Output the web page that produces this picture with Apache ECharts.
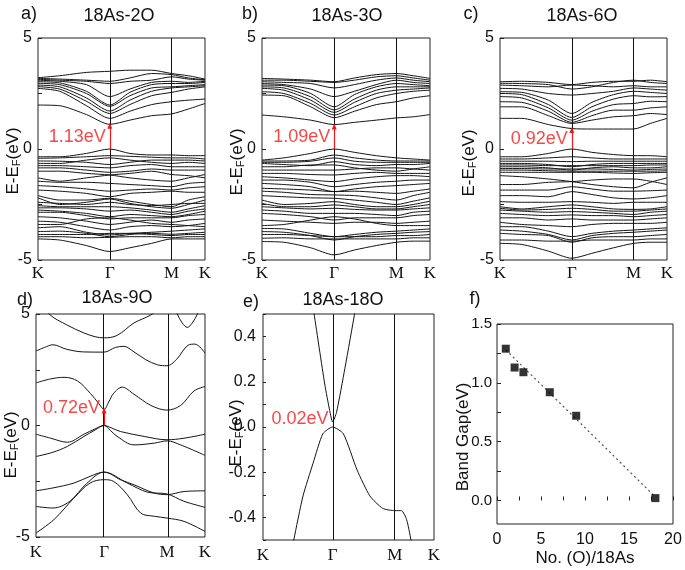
<!DOCTYPE html>
<html><head><meta charset="utf-8">
<script src="https://cdn.jsdelivr.net/npm/echarts@6/dist/echarts.min.js"></script>
<style>html,body{margin:0;padding:0;background:#fff}#c{width:685px;height:570px}</style>
</head><body><div id="c"></div>
<script>
// ---------- k-path ----------
const kLabels = ['K', 'Γ', 'M', 'K'];
const kTicksABC = [0, 0.43, 0.80, 1];
const kTicksD = [0, 0.403, 0.775, 1];
const kTicksE = [0, 0.407, 0.771, 1];
const kABC = [0, 0.13, 0.29, 0.43, 0.55, 0.68, 0.80, 0.90, 1.0];

// ---------- panel a: 18As-2O (energies at kABC) ----------
const bandsA = [
  [1.98, 1.95, 1.55, 1.11, 1.3, 1.5, 1.58, 1.8, 2.05],
  [2.73, 2.6, 1.95, 1.38, 1.7, 2.0, 2.13, 2.2, 2.25],
  [2.81, 2.7, 2.15, 1.6, 2.0, 2.4, 2.55, 2.7, 2.8],
  [2.88, 2.8, 2.3, 1.71, 2.2, 2.6, 2.75, 2.8, 2.85],
  [2.96, 2.9, 2.5, 1.92, 2.4, 2.75, 2.8, 2.85, 2.9],
  [3.03, 2.98, 2.6, 1.98, 2.55, 2.9, 2.95, 2.95, 3.0],
  [3.1, 3.05, 2.9, 2.36, 2.7, 3.0, 3.05, 3.0, 3.05],
  [3.14, 3.1, 3.05, 2.95, 3.05, 3.1, 3.25, 3.15, 3.1],
  [3.21, 3.3, 3.45, 3.5, 3.55, 3.55, 3.4, 3.3, 3.15],
  [3.18, 3.15, 3.1, 3.05, 3.2, 3.4, 3.35, 3.2, 3.12],
  [-0.35, -0.35, -0.2, 0, -0.2, -0.27, -0.27, -0.3, -0.3],
  [-0.42, -0.4, -0.35, -0.3, -0.33, -0.37, -0.4, -0.4, -0.45],
  [-0.54, -0.55, -0.6, -0.7, -0.6, -0.5, -0.5, -0.5, -0.54],
  [-0.65, -0.65, -0.5, -0.4, -0.5, -0.6, -0.65, -0.6, -0.65],
  [-0.75, -0.75, -0.8, -0.85, -0.75, -0.7, -0.8, -0.8, -0.8],
  [-0.85, -0.85, -0.95, -1.05, -1.0, -0.9, -0.95, -0.95, -0.95],
  [-1.0, -1.0, -1.1, -1.17, -1.3, -1.4, -1.45, -1.3, -1.15],
  [-1.3, -1.45, -1.3, -1.17, -1.1, -1.0, -1.15, -1.2, -1.3],
  [-1.45, -1.5, -1.5, -1.55, -1.6, -1.65, -1.7, -1.55, -1.5],
  [-1.65, -1.7, -1.8, -1.9, -1.85, -1.8, -1.85, -1.75, -1.7],
  [-1.85, -1.9, -2.0, -2.15, -2.0, -1.95, -1.9, -1.95, -1.95],
  [-2.1, -2.3, -2.3, -2.22, -2.35, -2.5, -2.6, -2.3, -2.15],
  [-2.2, -2.5, -2.4, -2.25, -2.45, -2.6, -2.67, -2.5, -2.3],
  [-2.4, -2.45, -2.5, -2.4, -2.5, -2.55, -2.5, -2.45, -2.45],
  [-2.55, -2.6, -2.6, -2.6, -2.65, -2.75, -2.85, -2.7, -2.55],
  [-2.65, -2.65, -2.7, -2.8, -2.75, -2.85, -2.95, -2.8, -2.7],
  [-2.75, -2.8, -2.9, -3.05, -2.95, -3.0, -3.05, -2.95, -2.8],
  [-2.85, -2.85, -3.0, -3.15, -3.1, -3.1, -3.1, -3.0, -2.95],
  [-3.05, -3.1, -3.25, -3.4, -3.3, -3.2, -3.3, -3.2, -3.15],
  [-3.25, -3.3, -3.5, -3.65, -3.5, -3.45, -3.5, -3.45, -3.35],
  [-3.4, -3.4, -3.15, -3.1, -3.2, -3.35, -3.4, -3.45, -3.5],
  [-3.55, -3.5, -3.75, -3.87, -3.8, -3.75, -3.7, -3.65, -3.6],
  [-3.72, -3.7, -3.8, -3.95, -3.85, -3.8, -3.84, -3.8, -3.75],
  [-3.85, -3.85, -3.85, -3.8, -3.8, -3.85, -3.9, -3.85, -3.85],
  [-3.95, -3.95, -4.0, -3.98, -3.95, -3.95, -4.0, -3.95, -3.95],
  [-4.05, -4.1, -4.35, -4.62, -4.45, -4.25, -4.05, -4.05, -4.05]
];

// ---------- panel b: 18As-3O ----------
const bandsB = [
  [1.53, 1.45, 1.3, 1.1, 1.2, 1.3, 1.4, 1.45, 1.55],
  [2.43, 2.4, 1.9, 1.41, 1.7, 2.0, 2.13, 2.3, 2.4],
  [2.58, 2.5, 2.05, 1.53, 1.9, 2.3, 2.5, 2.6, 2.65],
  [2.73, 2.65, 2.2, 1.65, 2.1, 2.5, 2.65, 2.7, 2.75],
  [2.8, 2.75, 2.35, 1.76, 2.25, 2.65, 2.8, 2.8, 2.8],
  [2.88, 2.85, 2.5, 1.9, 2.45, 2.8, 2.95, 2.9, 2.85],
  [2.95, 2.9, 2.7, 2.36, 2.6, 2.9, 3.1, 3.0, 2.95],
  [3.03, 3.0, 2.95, 2.75, 2.9, 3.1, 3.2, 3.1, 3.03],
  [3.1, 3.1, 3.05, 3.0, 3.1, 3.25, 3.3, 3.2, 3.1],
  [3.18, 3.15, 3.1, 3.03, 3.2, 3.35, 3.4, 3.3, 3.18],
  [-0.5, -0.4, -0.2, 0, -0.15, -0.3, -0.4, -0.45, -0.5],
  [-0.54, -0.54, -0.5, -0.27, -0.4, -0.5, -0.54, -0.54, -0.54],
  [-0.6, -0.6, -0.55, -0.4, -0.55, -0.6, -0.6, -0.6, -0.6],
  [-0.65, -0.7, -0.75, -0.57, -0.7, -0.75, -0.7, -0.7, -0.65],
  [-0.8, -0.8, -0.72, -0.72, -0.85, -0.95, -1.0, -0.9, -0.8],
  [-0.95, -0.95, -0.95, -0.95, -0.9, -0.85, -0.85, -0.9, -0.95],
  [-1.1, -1.1, -1.15, -1.17, -1.1, -1.05, -1.1, -1.1, -1.1],
  [-1.25, -1.3, -1.4, -1.47, -1.35, -1.25, -1.2, -1.2, -1.25],
  [-1.4, -1.4, -1.5, -1.7, -1.6, -1.5, -1.45, -1.4, -1.4],
  [-1.55, -1.6, -1.7, -1.92, -1.8, -1.7, -1.65, -1.6, -1.55],
  [-1.77, -1.8, -1.85, -1.92, -1.9, -1.95, -2.0, -1.9, -1.8],
  [-1.9, -1.95, -2.05, -2.07, -2.1, -2.2, -2.3, -2.1, -1.95],
  [-2.1, -2.15, -2.2, -2.22, -2.3, -2.4, -2.5, -2.35, -2.2],
  [-2.3, -2.5, -2.45, -2.37, -2.5, -2.6, -2.6, -2.5, -2.35],
  [-2.45, -2.6, -2.6, -2.52, -2.6, -2.7, -2.7, -2.6, -2.5],
  [-2.6, -2.65, -2.7, -2.67, -2.72, -2.75, -2.75, -2.7, -2.65],
  [-2.75, -2.8, -2.9, -2.9, -2.9, -2.95, -3.0, -2.85, -2.8],
  [-2.9, -2.95, -3.05, -3.2, -3.1, -3.1, -3.1, -3.0, -2.95],
  [-3.2, -3.25, -3.3, -3.35, -3.3, -3.3, -3.35, -3.3, -3.25],
  [-3.45, -3.4, -3.2, -3.05, -3.15, -3.35, -3.45, -3.45, -3.45],
  [-3.58, -3.6, -3.8, -3.95, -3.85, -3.75, -3.7, -3.65, -3.6],
  [-3.72, -3.75, -3.9, -4.1, -3.95, -3.85, -3.8, -3.75, -3.72],
  [-3.85, -3.85, -3.9, -3.95, -3.95, -3.95, -3.9, -3.9, -3.85],
  [-4.02, -4.0, -4.05, -4.05, -4.05, -4.05, -4.05, -4.0, -4.0],
  [-4.17, -4.2, -4.45, -4.77, -4.55, -4.35, -4.2, -4.15, -4.15]
];

// ---------- panel c: 18As-6O ----------
const bandsC = [
  [1.38, 1.38, 1.1, 0.92, 0.9, 0.9, 0.9, 1.15, 1.38],
  [1.9, 1.9, 1.5, 1.15, 1.3, 1.45, 1.5, 1.6, 1.55],
  [2.13, 2.1, 1.7, 1.2, 1.5, 1.75, 1.75, 1.85, 1.9],
  [2.36, 2.3, 1.85, 1.3, 1.7, 2.0, 2.05, 2.15, 2.13],
  [2.5, 2.45, 2.0, 1.42, 1.9, 2.25, 2.4, 2.35, 2.36],
  [2.58, 2.55, 2.2, 1.6, 2.1, 2.45, 2.6, 2.55, 2.5],
  [2.73, 2.7, 2.5, 2.43, 2.5, 2.6, 2.75, 2.7, 2.65],
  [2.88, 2.85, 2.8, 2.88, 2.85, 2.8, 2.85, 2.8, 2.8],
  [2.96, 2.95, 2.9, 2.7, 2.8, 3.0, 3.1, 3.0, 2.95],
  [3.03, 3.05, 3.0, 2.9, 3.0, 3.05, 3.05, 3.1, 3.03],
  [-0.35, -0.35, -0.2, 0, -0.15, -0.25, -0.3, -0.3, -0.35],
  [-0.45, -0.45, -0.4, -0.35, -0.4, -0.45, -0.45, -0.45, -0.45],
  [-0.55, -0.55, -0.55, -0.57, -0.55, -0.55, -0.55, -0.55, -0.55],
  [-0.65, -0.65, -0.7, -0.8, -0.7, -0.65, -0.65, -0.65, -0.65],
  [-0.72, -0.72, -0.75, -0.75, -0.75, -0.75, -0.75, -0.72, -0.72],
  [-0.8, -0.8, -0.85, -0.95, -0.85, -0.8, -0.85, -0.85, -0.8],
  [-0.88, -0.88, -0.9, -0.9, -0.9, -0.92, -0.95, -0.92, -0.9],
  [-0.95, -0.95, -0.98, -1.0, -1.0, -1.0, -1.0, -1.0, -0.98],
  [-1.05, -1.05, -1.05, -1.05, -1.05, -1.08, -1.1, -1.07, -1.05],
  [-1.2, -1.25, -1.35, -1.47, -1.6, -1.7, -1.75, -1.5, -1.3],
  [-1.6, -1.6, -1.5, -1.47, -1.4, -1.35, -1.35, -1.45, -1.6],
  [-1.85, -1.85, -1.85, -1.7, -1.8, -1.9, -1.9, -1.88, -1.85],
  [-2.1, -2.1, -2.15, -1.92, -2.05, -2.2, -2.25, -2.2, -2.1],
  [-2.37, -2.4, -2.4, -2.37, -2.4, -2.45, -2.4, -2.4, -2.4],
  [-2.6, -2.7, -2.6, -2.52, -2.6, -2.7, -2.72, -2.7, -2.6],
  [-2.67, -2.75, -2.72, -2.67, -2.72, -2.8, -2.8, -2.75, -2.7],
  [-2.75, -2.8, -2.85, -2.82, -2.85, -2.9, -2.95, -2.85, -2.8],
  [-2.9, -2.95, -3.0, -2.97, -3.0, -3.0, -3.05, -3.0, -2.95],
  [-3.1, -3.1, -3.2, -3.15, -3.2, -3.2, -3.2, -3.15, -3.1],
  [-3.3, -3.4, -3.45, -3.5, -3.4, -3.35, -3.35, -3.35, -3.3],
  [-3.5, -3.5, -3.7, -3.95, -3.8, -3.7, -3.65, -3.6, -3.55],
  [-3.65, -3.7, -3.85, -4.1, -3.9, -3.8, -3.75, -3.7, -3.65],
  [-3.8, -3.85, -3.9, -4.2, -4.0, -3.95, -3.95, -3.9, -3.85],
  [-4.1, -4.1, -4.15, -4.15, -4.1, -4.1, -4.1, -4.05, -4.05],
  [-4.25, -4.3, -4.6, -4.92, -4.7, -4.45, -4.25, -4.2, -4.2]
];

// ---------- panel d: 18As-9O ([k, E] pairs) ----------
const bandsD = [
  [[0.0, 5.8], [0.077, 5.0], [0.185, 4.5], [0.284, 4.15], [0.35, 3.98], [0.403, 3.93], [0.48, 4.04], [0.58, 4.6], [0.68, 4.96], [0.75, 5.4]],
  [[0.8, 5.6], [0.836, 5.0], [0.865, 4.6], [0.895, 4.4], [0.925, 4.6], [0.955, 5.0], [0.98, 5.5]],
  [[0, 3.34], [0.05, 3.5], [0.1, 3.62], [0.18, 3.42], [0.28, 3.3], [0.403, 3.29], [0.47, 3.5], [0.52, 3.55], [0.58, 3.3], [0.65, 2.95], [0.72, 2.72], [0.775, 2.68], [0.83, 2.95], [0.9, 3.6], [0.94, 3.65], [1.0, 3.25]],
  [[0, 1.91], [0.087, 2.09], [0.166, 2.16], [0.245, 2.0], [0.323, 1.43], [0.37, 1.0], [0.403, 0.72], [0.43, 1.05], [0.46, 1.45], [0.51, 1.72], [0.58, 1.4], [0.68, 0.9], [0.775, 0.69], [0.856, 0.9], [0.935, 1.55], [1.0, 1.75]],
  [[0, -0.39], [0.087, -0.57], [0.185, -0.75], [0.284, -0.39], [0.35, -0.15], [0.403, 0], [0.45, -0.12], [0.5, -0.27], [0.64, -0.49], [0.775, -0.64], [0.876, -0.57], [1.0, -0.39]],
  [[0, -1.39], [0.1, -1.2], [0.185, -0.94], [0.284, -0.49], [0.35, -0.2], [0.403, 0], [0.44, -0.22], [0.48, -0.49], [0.58, -0.87], [0.70, -0.79], [0.775, -0.69], [0.856, -0.87], [1.0, -1.34]],
  [[0, -2.93], [0.1, -2.8], [0.225, -2.58], [0.32, -2.28], [0.403, -2.09], [0.5, -2.43], [0.58, -2.66], [0.70, -3.03], [0.775, -3.1], [0.876, -2.96], [1.0, -2.93]],
  [[0, -3.63], [0.1, -3.7], [0.2, -3.4], [0.3, -2.6], [0.403, -2.09], [0.54, -2.58], [0.66, -2.99], [0.775, -3.07], [0.876, -3.4], [1.0, -3.67]],
  [[0, -4.82], [0.106, -4.22], [0.225, -3.25], [0.32, -2.58], [0.403, -2.43], [0.46, -2.51], [0.54, -3.1], [0.62, -3.93], [0.70, -4.07], [0.775, -4.15], [0.876, -4.3], [1.0, -4.75]]
];

// ---------- panel e: 18As-18O ([k, E] pairs) ----------
const bandsE = [
  [[0.17, -0.55], [0.18, -0.5], [0.234, -0.305], [0.293, -0.16], [0.35, -0.03], [0.407, 0], [0.47, -0.03], [0.55, -0.19], [0.625, -0.305], [0.70, -0.36], [0.771, -0.37], [0.81, -0.37], [0.84, -0.41], [0.865, -0.5], [0.87, -0.55]],
  [[0.29, 0.55], [0.295, 0.52], [0.361, 0.19], [0.39, 0.073], [0.407, 0.022], [0.43, 0.065], [0.479, 0.26], [0.54, 0.52], [0.545, 0.55]]
];

// ---------- gaps / labels ----------
const titles = ['18As-2O', '18As-3O', '18As-6O', '18As-9O', '18As-18O'];
const panelLetters = ['a)', 'b)', 'c)', 'd)', 'e)', 'f)'];
const gaps = [1.13, 1.09, 0.92, 0.72, 0.02];
const gapLabels = ['1.13eV', '1.09eV', '0.92eV', '0.72eV', '0.02eV'];
const gapLabelE = [0.55, 0.52, 0.43, 0.77, 0.035];

// ---------- panel f ----------
const oxygenCount = [1, 2, 3, 6, 9, 18];
const bandGap = [1.29, 1.13, 1.09, 0.92, 0.72, 0.02];
const fitLine = [[1, 1.28], [18, 0.03]];
const fYTicks = [0, 0.5, 1.0, 1.5];
const fYMinor = [0, 0.25, 0.5, 0.75, 1.0, 1.25, 1.5];

// ---------- layout ----------
const SANS = 'Liberation Sans, Arial, sans-serif';
const SERIF = 'Liberation Serif, Times New Roman, serif';
const RED = '#f01a1a';
const grids = [
  {left: 38, top: 38, width: 167, height: 222},
  {left: 262, top: 38, width: 168, height: 222},
  {left: 500, top: 38, width: 167, height: 222},
  {left: 36, top: 314, width: 169, height: 223},
  {left: 263, top: 314, width: 171, height: 226},
  {left: 497, top: 324, width: 176, height: 200}
].map(g => Object.assign({show: true, borderColor: '#222', borderWidth: 1, backgroundColor: 'transparent', containLabel: false}, g));

const kTickSets = [kTicksABC, kTicksABC, kTicksABC, kTicksD, kTicksE];
const xAxes = [], yAxes = [], series = [];

for (let i = 0; i < 5; i++) {
  const ticks = kTickSets[i];
  xAxes.push({
    type: 'value', gridIndex: i, min: 0, max: 1,
    axisLine: {show: false}, axisTick: {show: false}, splitLine: {show: false},
    axisLabel: {
      customValues: ticks, margin: i < 3 ? 5 : 7,
      fontFamily: SERIF, fontSize: 17, color: '#111',
      formatter: v => { const j = ticks.findIndex(t => Math.abs(t - v) < 1e-6); return j >= 0 ? kLabels[j] : ''; }
    }
  });
  if (i < 4) {
    yAxes.push({
      type: 'value', gridIndex: i, min: -5, max: 5, interval: 2.5,
      axisLine: {show: false}, splitLine: {show: false},
      axisTick: {show: true, inside: true, length: 4, lineStyle: {color: '#222'}},
      axisLabel: {fontFamily: SANS, fontSize: 16, color: '#111', margin: 6,
        formatter: v => (Math.abs(v % 5) < 1e-6 ? String(v) : '')}
    });
  } else {
    yAxes.push({
      type: 'value', gridIndex: i, min: -0.5, max: 0.5, interval: 0.1,
      axisLine: {show: false}, splitLine: {show: false},
      axisTick: {show: true, inside: true, length: 3, lineStyle: {color: '#222'}},
      axisLabel: {fontFamily: SANS, fontSize: 16, color: '#111', margin: 7,
        formatter: v => { const r = Math.round(v * 10); return (r % 2 === 0 && Math.abs(r) < 5) ? (r / 10).toFixed(1) : ''; }}
    });
  }
}

const lineStyleBand = {color: '#151515', width: 1};
function addBand(gi, data, smooth) {
  series.push({type: 'line', xAxisIndex: gi, yAxisIndex: gi, data: data, showSymbol: false,
    smooth: smooth, lineStyle: lineStyleBand, silent: true, clip: true, z: 2});
}
[bandsA, bandsB, bandsC].forEach((bands, gi) => {
  bands.forEach(b => addBand(gi, kABC.map((k, j) => [k, b[j]]), 0.25));
});
bandsD.forEach(b => addBand(3, b, 0.35));
bandsE.forEach(b => addBand(4, b, 0.2));

// vertical Γ / M lines, gap arrows and labels
for (let i = 0; i < 5; i++) {
  const ticks = kTickSets[i];
  series.push({type: 'line', xAxisIndex: i, yAxisIndex: i, data: [[ticks[1], 0]], showSymbol: false,
    lineStyle: {opacity: 0}, silent: true, z: 3,
    markLine: {silent: true, symbol: 'none', label: {show: false}, animation: false,
      lineStyle: {color: '#111', width: 1, type: 'solid'},
      data: [{xAxis: ticks[1]}, {xAxis: ticks[2]}]}});
  if (i < 4) {
    series.push({type: 'line', xAxisIndex: i, yAxisIndex: i, data: [[ticks[1], 0]], showSymbol: false,
      lineStyle: {opacity: 0}, silent: true, z: 5,
      markLine: {silent: true, symbol: ['none', 'triangle'], symbolSize: [5, 6], label: {show: false}, animation: false,
        lineStyle: {color: RED, width: 1.2, type: 'solid'},
        data: [[{coord: [ticks[1], 0]}, {coord: [ticks[1], gaps[i] * 0.93]}]]}});
  }
  series.push({type: 'scatter', xAxisIndex: i, yAxisIndex: i, data: [[ticks[1], gapLabelE[i]]],
    symbolSize: 0, silent: true, z: 6,
    label: {show: true, position: 'left', distance: 4, formatter: gapLabels[i],
      color: RED, fontSize: 18, fontFamily: SANS}});
}

// panel f
xAxes.push({type: 'value', gridIndex: 5, min: 0, max: 20, interval: 2.5,
  axisLine: {show: false}, splitLine: {show: false},
  axisTick: {show: true, inside: true, length: 4, lineStyle: {color: '#222'}},
  axisLabel: {fontFamily: SANS, fontSize: 16, color: '#111', margin: 8,
    formatter: v => (Math.abs(v % 5) < 1e-6 ? String(v) : '')}});
yAxes.push({type: 'value', gridIndex: 5, min: -0.2, max: 1.5,
  axisLine: {show: false}, splitLine: {show: false},
  axisTick: {show: true, inside: true, length: 4, customValues: fYMinor, lineStyle: {color: '#222'}},
  axisLabel: {customValues: fYTicks, fontFamily: SANS, fontSize: 15, color: '#111', margin: 5,
    formatter: v => v.toFixed(1)}});
series.push({type: 'line', xAxisIndex: 5, yAxisIndex: 5, data: fitLine, showSymbol: false, silent: true,
  lineStyle: {color: '#555', width: 1.2, type: [2, 3]}, z: 2});
series.push({type: 'scatter', xAxisIndex: 5, yAxisIndex: 5,
  data: oxygenCount.map((n, j) => [n, bandGap[j]]),
  symbol: 'rect', symbolSize: 8, itemStyle: {color: '#000'}, silent: true, z: 4});

// text graphics
const txt = (x, y, text, opt) => Object.assign({type: 'text', x: x, y: y,
  style: Object.assign({text: text, fill: '#111', font: '18px ' + SANS, align: 'center', verticalAlign: 'middle'}, opt || {})});
const yName = (x, y) => ({type: 'text', x: x, y: y, rotation: Math.PI / 2, z: -1,
  style: {text: 'E-E{s|F}(eV)', fill: '#111', font: '17px ' + SANS, align: 'center', verticalAlign: 'middle',
    rich: {s: {fontSize: 11, fontFamily: SANS, verticalAlign: 'bottom', padding: [7, 0, 0, 0]}}}});
const graphic = [
  txt(29, 14, panelLetters[0]), txt(119, 16, titles[0]),
  txt(250, 14, panelLetters[1]), txt(347, 16, titles[1]),
  txt(471, 14, panelLetters[2]), txt(582, 16, titles[2]),
  txt(25, 300, panelLetters[3]), txt(117, 298, titles[3]),
  txt(251, 302, panelLetters[4]), txt(343, 300, titles[4]),
  txt(475, 299, panelLetters[5]),
  yName(13, 161), yName(237, 162), yName(469, 163), yName(11, 445), yName(236, 433),
  {type: 'text', x: 463, y: 437, rotation: Math.PI / 2,
    style: {text: 'Band Gap(eV)', fill: '#111', font: '17px ' + SANS, align: 'center', verticalAlign: 'middle'}},
  txt(585, 558, 'No. (O)/18As', {font: '17px ' + SANS})
];

const chart = echarts.init(document.getElementById('c'), null, {renderer: 'canvas'});
chart.setOption({
  animation: false, backgroundColor: '#fff',
  grid: grids, xAxis: xAxes, yAxis: yAxes, series: series, graphic: graphic
});
</script></body></html>
